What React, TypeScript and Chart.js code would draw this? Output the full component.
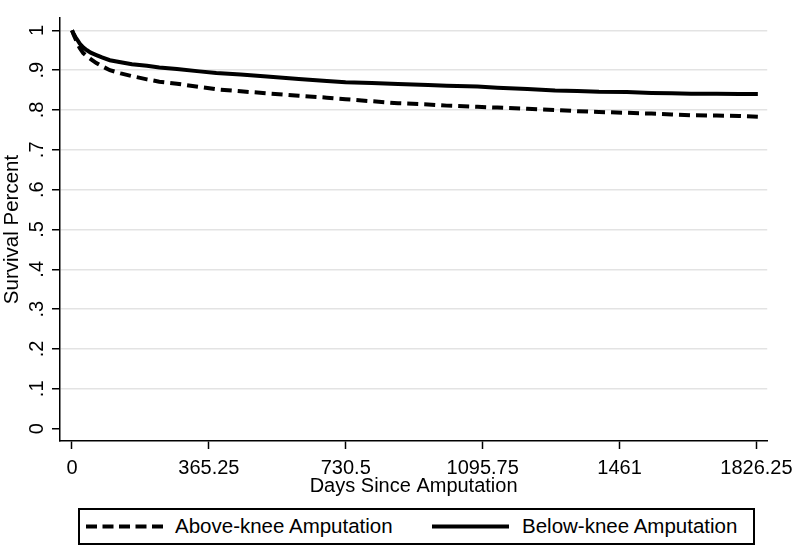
import React, { useEffect, useRef } from "react";
import { Chart, registerables } from "chart.js";

Chart.register(...registerables);

const days = [0, 5, 10, 15, 21, 30, 40, 50, 65, 80, 101, 130, 160, 200, 233, 280, 340, 385, 450, 520, 605, 680, 730, 800, 870, 950, 1000, 1082, 1135, 1215, 1289, 1348, 1406, 1480, 1546, 1600, 1652, 1720, 1780, 1830];
const belowKnee = [1.0, 0.99, 0.982, 0.975, 0.966, 0.957, 0.95, 0.944, 0.938, 0.932, 0.925, 0.92, 0.915, 0.911, 0.907, 0.903, 0.897, 0.893, 0.889, 0.884, 0.878, 0.873, 0.87, 0.868, 0.865, 0.863, 0.861, 0.859, 0.856, 0.853, 0.849, 0.848, 0.846, 0.845, 0.843, 0.842, 0.841, 0.841, 0.84, 0.84];
const aboveKnee = [1.0, 0.988, 0.977, 0.966, 0.955, 0.943, 0.935, 0.928, 0.918, 0.91, 0.9, 0.892, 0.885, 0.877, 0.871, 0.866, 0.858, 0.852, 0.847, 0.842, 0.836, 0.831, 0.827, 0.822, 0.817, 0.814, 0.811, 0.808, 0.806, 0.803, 0.8, 0.797, 0.795, 0.793, 0.791, 0.789, 0.787, 0.786, 0.785, 0.783];
const xTickValues = [0, 365.25, 730.5, 1095.75, 1461, 1826.25];
const yTickValues = [0, 0.1, 0.2, 0.3, 0.4, 0.5, 0.6, 0.7, 0.8, 0.9, 1];
const seriesLabels = ["Above-knee Amputation", "Below-knee Amputation"];
const xTitle = "Days Since Amputation";
const yTitle = "Survival Percent";

const FONT = "'Liberation Sans', Arial, sans-serif";

export default function App() {
  const canvasRef = useRef<HTMLCanvasElement | null>(null);

  useEffect(() => {
    const canvas = canvasRef.current;
    if (!canvas) return;
    const chart = new Chart(canvas, {
      type: "line",
      data: {
        datasets: [
          {
            label: seriesLabels[0],
            data: days.map((d, i) => ({ x: d, y: aboveKnee[i] })),
            borderColor: "#000",
            borderWidth: 4,
            borderDash: [11, 6],
            pointRadius: 0,
            tension: 0,
            fill: false,
          },
          {
            label: seriesLabels[1],
            data: days.map((d, i) => ({ x: d, y: belowKnee[i] })),
            borderColor: "#000",
            borderWidth: 4,
            pointRadius: 0,
            tension: 0,
            fill: false,
          },
        ],
      },
      options: {
        animation: false,
        responsive: false,
        devicePixelRatio: 1,
        layout: { padding: { left: 0, right: 27, top: 1, bottom: 45 } },
        plugins: { legend: { display: false }, tooltip: { enabled: false } },
        scales: {
          x: {
            type: "linear",
            min: -32,
            max: 1855,
            afterBuildTicks: (s: any) => {
              s.ticks = xTickValues.map((v) => ({ value: v }));
            },
            afterFit: (s: any) => {
              s.height = 60;
            },
            ticks: {
              color: "#000",
              font: { family: FONT, size: 20 },
              padding: 7,
              maxRotation: 0,
              minRotation: 0,
              autoSkip: false,
              callback: (v: any) => String(v),
            },
            grid: {
              display: true,
              drawOnChartArea: false,
              drawTicks: true,
              tickLength: 8,
              tickColor: "#000",
              tickWidth: 1.5,
            },
            border: { display: true, color: "#000", width: 1.5 },
            title: {
              display: true,
              text: xTitle,
              color: "#000",
              font: { family: FONT, size: 20 },
              padding: { top: 0, bottom: 3 },
            },
          },
          y: {
            type: "linear",
            min: -0.031,
            max: 1.031,
            afterBuildTicks: (s: any) => {
              s.ticks = yTickValues.map((v) => ({ value: v }));
            },
            afterFit: (s: any) => {
              s.width = 60;
            },
            ticks: {
              color: "#000",
              font: { family: FONT, size: 20 },
              padding: 6,
              minRotation: 90,
              maxRotation: 90,
              crossAlign: "center",
              autoSkip: false,
              callback: (v: any) => {
                const n = Math.round(Number(v) * 10);
                if (n === 0) return "0";
                if (n === 10) return "1";
                return "." + n;
              },
            },
            grid: {
              display: true,
              drawOnChartArea: true,
              drawTicks: true,
              tickLength: 8,
              lineWidth: 1.5,
              color: (ctx: any) =>
                ctx.tick && Math.abs(ctx.tick.value) < 1e-9 ? "rgba(0,0,0,0)" : "#e3e3e3",
              tickColor: "#000",
              tickWidth: 1.5,
            },
            border: { display: true, color: "#000", width: 1.5 },
            title: {
              display: true,
              text: yTitle,
              color: "#000",
              font: { family: FONT, size: 20.5 },
              padding: { top: 0, bottom: 0 },
            },
          },
        },
      },
    } as any);
    return () => chart.destroy();
  }, []);

  return (
    <div style={{ position: "absolute", left: 0, top: 0, width: 800, height: 546, background: "#fff" }}>
      <canvas ref={canvasRef} width={800} height={546} style={{ position: "absolute", left: 0, top: 0, width: 800, height: 546 }} />
      <div
        style={{
          position: "absolute",
          left: 78,
          top: 508,
          width: 677,
          height: 37,
          boxSizing: "border-box",
          border: "2px solid #000",
          background: "#fff",
        }}
      />
      <svg width={800} height={546} style={{ position: "absolute", left: 0, top: 0, pointerEvents: "none" }}>
        <line x1={86} y1={526.5} x2={163} y2={526.5} stroke="#000" strokeWidth={4} strokeDasharray="11 5.5" />
        <line x1={432} y1={526.5} x2={509} y2={526.5} stroke="#000" strokeWidth={4} />
      </svg>
      <div style={{ position: "absolute", left: 175, top: 514, fontFamily: FONT, fontSize: 20.5, lineHeight: "24px", color: "#000", whiteSpace: "nowrap" }}>
        {seriesLabels[0]}
      </div>
      <div style={{ position: "absolute", left: 522, top: 514, fontFamily: FONT, fontSize: 20.5, lineHeight: "24px", color: "#000", whiteSpace: "nowrap" }}>
        {seriesLabels[1]}
      </div>
    </div>
  );
}
